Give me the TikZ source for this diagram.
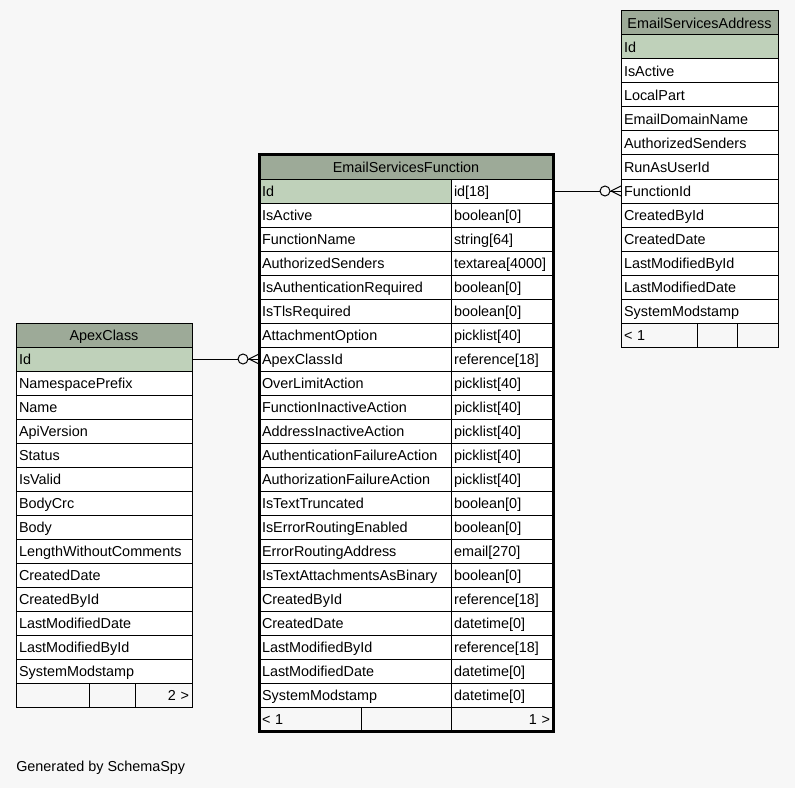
\documentclass[tikz,border=0pt]{standalone}
\usepackage{fontspec}
\setmainfont{Liberation Sans}
\usetikzlibrary{calc}
\definecolor{schemabg}{RGB}{247,247,247}
\definecolor{headgreen}{RGB}{157,170,152}
\definecolor{keygreen}{RGB}{191,209,186}

\begin{document}
\begin{tikzpicture}[
    x=0.75pt, y=-0.75pt,
    every node/.style={font=\fontsize{10.8}{13}\selectfont},
    cell/.style={
        /utils/exec={\pgfmathsetlengthmacro\cellw{#1*0.75pt-4.5pt}},
        draw=black,
        fill=white,
        line width=0.75pt,
        anchor=north west,
        outer sep=0pt,
        inner xsep=2.25pt,
        inner ysep=0pt,
        minimum height=18pt,
        text width=\cellw,
        text height=9.5pt,
        text depth=1pt,
        align=left
    },
    keycell/.style={cell=#1, fill=keygreen},
    headcell/.style={cell=#1, fill=headgreen, align=center},
    footcell/.style={cell=#1, fill=schemabg},
    link/.style={line width=0.75pt, black}
]

    % Canvas
    \fill[schemabg] (0,0) rectangle (795,788);
    \useasboundingbox (0,0) rectangle (795,788);

    % ApexClass
    \node[headcell=176] (ac-head) at (16,323) {ApexClass};
    \node[keycell=176] (ac-0) at (16,347) {Id};
    \foreach \fname [count=\i from 1] in {NamespacePrefix, Name, ApiVersion,
        Status, IsValid, BodyCrc, Body, LengthWithoutComments, CreatedDate,
        CreatedById, LastModifiedDate, LastModifiedById, SystemModstamp}
        \node[cell=176] (ac-\i) at (16,347+24*\i) {\fname};
    \node[footcell=73] (ac-foot1) at (16,683) {};
    \node[footcell=46] (ac-foot2) at (89,683) {};
    \node[footcell=57, align=right] (ac-foot3) at (135,683) {2 >};

    % EmailServicesFunction
    \node[headcell=294] (esf-head) at (259,155) {EmailServicesFunction};
    \node[keycell=192] (esf-0) at (259,179) {Id};
    \node[cell=102] (esft-0) at (451,179) {id[18]};
    \foreach \fname/\ftype [count=\i from 1] in {
        IsActive/boolean[0],
        FunctionName/string[64],
        AuthorizedSenders/textarea[4000],
        IsAuthenticationRequired/boolean[0],
        IsTlsRequired/boolean[0],
        AttachmentOption/picklist[40],
        ApexClassId/reference[18],
        OverLimitAction/picklist[40],
        FunctionInactiveAction/picklist[40],
        AddressInactiveAction/picklist[40],
        AuthenticationFailureAction/picklist[40],
        AuthorizationFailureAction/picklist[40],
        IsTextTruncated/boolean[0],
        IsErrorRoutingEnabled/boolean[0],
        ErrorRoutingAddress/email[270],
        IsTextAttachmentsAsBinary/boolean[0],
        CreatedById/reference[18],
        CreatedDate/datetime[0],
        LastModifiedById/reference[18],
        LastModifiedDate/datetime[0],
        SystemModstamp/datetime[0]}
    {
        \node[cell=192] (esf-\i) at (259,179+24*\i) {\fname};
        \node[cell=102] (esft-\i) at (451,179+24*\i) {\ftype};
    }
    \node[footcell=102] (esf-foot1) at (259,707) {< 1};
    \node[footcell=90] (esf-foot2) at (361,707) {};
    \node[footcell=102, align=right] (esf-foot3) at (451,707) {1 >};
    \draw[line width=2.25pt] (esf-head.north west) rectangle (esf-foot3.south east);

    % EmailServicesAddress
    \node[headcell=157] (esa-head) at (621,11) {EmailServicesAddress};
    \node[keycell=157] (esa-0) at (621,35) {Id};
    \foreach \fname [count=\i from 1] in {IsActive, LocalPart, EmailDomainName,
        AuthorizedSenders, RunAsUserId, FunctionId, CreatedById, CreatedDate,
        LastModifiedById, LastModifiedDate, SystemModstamp}
        \node[cell=157] (esa-\i) at (621,35+24*\i) {\fname};
    \node[footcell=76] (esa-foot1) at (621,323) {< 1};
    \node[footcell=40] (esa-foot2) at (697,323) {};
    \node[footcell=41] (esa-foot3) at (737,323) {};

    % Relationships (zero-or-many ends)
    \draw[link] (ac-0.east) -- ($(esf-7.west)+(-21,0)$);
    \draw[link] ($(esf-7.west)+(-16,0)$) circle[radius=3.75pt];
    \draw[link] ($(esf-7.west)+(-11,0)$) -- (esf-7.west);
    \draw[link] ($(esf-7.west)+(-10,0)$) -- ($(esf-7.west)+(0,-5)$);
    \draw[link] ($(esf-7.west)+(-10,0)$) -- ($(esf-7.west)+(0,5)$);

    \draw[link] (esft-0.east) -- ($(esa-6.west)+(-21,0)$);
    \draw[link] ($(esa-6.west)+(-16,0)$) circle[radius=3.75pt];
    \draw[link] ($(esa-6.west)+(-11,0)$) -- (esa-6.west);
    \draw[link] ($(esa-6.west)+(-10,0)$) -- ($(esa-6.west)+(0,-5)$);
    \draw[link] ($(esa-6.west)+(-10,0)$) -- ($(esa-6.west)+(0,5)$);

    % Credit line
    \node[anchor=west, inner sep=0pt] (credit) at (16,768) {Generated by SchemaSpy};

\end{tikzpicture}
\end{document}
